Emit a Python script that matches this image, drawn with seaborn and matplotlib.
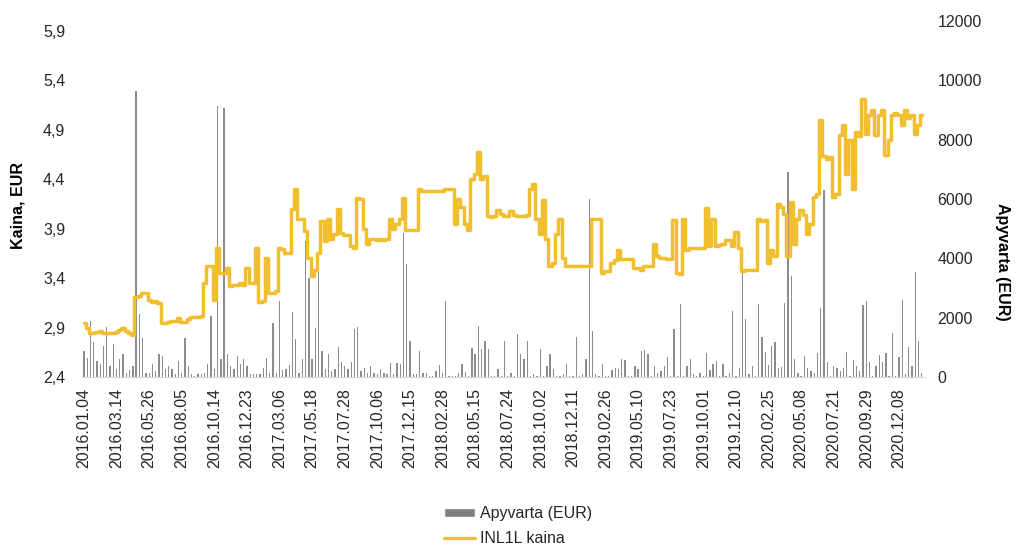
import pandas as pd
import matplotlib
matplotlib.use("Agg")
import matplotlib.pyplot as plt
import seaborn as sns
from matplotlib.ticker import FuncFormatter
from matplotlib.lines import Line2D
from matplotlib.patches import Patch

# category labels shown on the x axis (every 10th sample)
tick_labels = [
    "2016.01.04", "2016.03.14", "2016.05.26", "2016.08.05", "2016.10.14",
    "2016.12.23", "2017.03.06", "2017.05.18", "2017.07.28", "2017.10.06",
    "2017.12.15", "2018.02.28", "2018.05.15", "2018.07.24", "2018.10.02",
    "2018.12.11", "2019.02.26", "2019.05.10", "2019.07.23", "2019.10.01",
    "2019.12.10", "2020.02.25", "2020.05.08", "2020.07.21", "2020.09.29",
    "2020.12.08",
]

# INL1L price, EUR (one reading per ~5 trading days)
price = [
    2.95, 2.90, 2.85, 2.85, 2.86, 2.87, 2.85, 2.85, 2.85, 2.85,
    2.86, 2.88, 2.90, 2.87, 2.84, 2.82, 3.21, 3.22, 3.25, 3.25,
    3.18, 3.16, 3.17, 3.15, 2.95, 2.95, 2.96, 2.97, 2.97, 3.00,
    2.96, 2.96, 2.99, 3.01, 3.01, 3.01, 3.02, 3.35, 3.52, 3.52,
    3.18, 3.70, 3.45, 3.45, 3.50, 3.32, 3.33, 3.33, 3.35, 3.33,
    3.50, 3.35, 3.35, 3.70, 3.16, 3.17, 3.60, 3.25, 3.25, 3.27,
    3.70, 3.69, 3.65, 3.65, 4.10, 4.30, 4.00, 4.00, 3.88, 3.60,
    3.42, 3.48, 3.65, 3.98, 3.78, 4.00, 3.80, 3.85, 4.10, 3.86,
    3.84, 3.84, 3.72, 3.70, 4.21, 4.20, 3.90, 3.75, 3.80, 3.80,
    3.79, 3.80, 3.79, 3.80, 4.00, 3.90, 3.95, 4.00, 4.21, 3.89,
    3.89, 3.89, 3.89, 4.30, 4.28, 4.28, 4.28, 4.28, 4.28, 4.28,
    4.28, 4.30, 4.30, 4.30, 3.95, 4.20, 4.12, 3.95, 3.89, 4.40,
    4.45, 4.68, 4.40, 4.43, 4.03, 4.02, 4.03, 4.09, 4.05, 4.03,
    4.03, 4.08, 4.04, 4.03, 4.03, 4.03, 4.04, 4.30, 4.35, 4.00,
    3.85, 4.19, 3.80, 3.52, 3.55, 3.85, 4.00, 3.60, 3.52, 3.52,
    3.52, 3.52, 3.52, 3.52, 3.52, 3.52, 4.00, 4.00, 4.00, 3.45,
    3.47, 3.47, 3.55, 3.58, 3.68, 3.59, 3.59, 3.59, 3.59, 3.50,
    3.50, 3.48, 3.52, 3.52, 3.52, 3.75, 3.62, 3.60, 3.60, 3.59,
    3.59, 3.99, 3.45, 3.44, 4.00, 3.68, 3.70, 3.70, 3.70, 3.70,
    3.70, 4.11, 3.72, 4.00, 3.72, 3.73, 3.74, 3.79, 3.79, 3.72,
    3.87, 3.70, 3.47, 3.48, 3.48, 3.48, 3.48, 4.00, 3.98, 3.99,
    3.55, 3.68, 3.62, 4.15, 4.12, 4.05, 3.62, 4.17, 3.75, 4.00,
    4.09, 4.04, 3.85, 3.95, 4.22, 4.25, 5.00, 4.63, 4.60, 4.62,
    4.22, 4.25, 4.85, 4.95, 4.45, 4.80, 4.30, 4.88, 4.84, 5.21,
    4.86, 5.05, 5.10, 4.85, 5.05, 5.10, 4.65, 4.80, 5.05, 5.07,
    5.05, 4.95, 5.10, 5.02, 5.05, 4.86, 4.95, 5.05,
]

# turnover, EUR
turnover = [
    885, 630, 1890, 1165, 550, 450, 1050, 1670, 380, 1110,
    270, 600, 770, 150, 250, 380, 9650, 2120, 1330, 150,
    150, 450, 200, 770, 720, 270, 380, 270, 100, 550,
    150, 1330, 380, 100, 50, 100, 100, 150, 450, 2060,
    270, 9140, 600, 9080, 770, 380, 270, 720, 450, 605,
    380, 100, 100, 100, 100, 300, 630, 150, 1815, 150,
    2560, 250, 270, 420, 2200, 1280, 150, 600, 4580, 3350,
    600, 1635, 3830, 885, 270, 770, 200, 270, 1000, 490,
    380, 270, 490, 1610, 1670, 200, 300, 150, 380, 150,
    100, 270, 150, 100, 470, 100, 470, 440, 4860, 3800,
    1220, 100, 100, 885, 150, 150, 50, 50, 200, 400,
    150, 2560, 50, 50, 50, 150, 450, 180, 50, 975,
    770, 1725, 940, 1220, 960, 50, 50, 270, 50, 1220,
    50, 150, 50, 1445, 770, 600, 1220, 50, 100, 50,
    960, 50, 380, 770, 270, 50, 50, 100, 450, 50,
    50, 1365, 50, 100, 600, 6010, 1560, 100, 50, 450,
    50, 50, 250, 300, 270, 605, 580, 50, 50, 380,
    270, 885, 920, 770, 50, 380, 150, 200, 380, 660,
    50, 1610, 50, 2475, 50, 380, 605, 100, 50, 150,
    50, 805, 250, 450, 550, 50, 450, 50, 150, 2230,
    50, 300, 3685, 1950, 100, 380, 50, 2475, 1365, 830,
    400, 1050, 1190, 300, 330, 2490, 6900, 3400, 605, 150,
    50, 720, 300, 200, 150, 805, 2310, 6300, 510, 50,
    380, 320, 200, 320, 830, 50, 580, 380, 200, 2430,
    2550, 500, 50, 380, 740, 500, 800, 50, 1470, 50,
    690, 2600, 100, 1000, 380, 3540, 1220, 150,
]

df = pd.DataFrame({"idx": range(len(price)), "price": price, "turnover": turnover})

sns.set_theme(style="white")
plt.rcParams["font.family"] = ["Liberation Sans", "DejaVu Sans"]

line_color = "#F0BE2E"
bar_color = "#8c8c8c"
text_color = "#262626"
fs = 11.5

fig = plt.figure(figsize=(10.18, 5.47), dpi=100)
ax = fig.add_axes([82 / 1018, 170 / 547, 843 / 1018, 356 / 547])
ax2 = ax.twinx()

ax2.bar(df["idx"], df["turnover"], width=0.4, color=bar_color, linewidth=0)
# steps give the flat runs and vertical jumps of a thinly traded share
sns.lineplot(data=df, x="idx", y="price", ax=ax, color=line_color, linewidth=2.5,
             drawstyle="steps-mid")

# price line above the bars
ax.set_zorder(ax2.get_zorder() + 1)
ax.patch.set_visible(False)

ax.set_xlim(-0.6, 258)
ax.set_ylim(2.4, 6.0)
ax.set_yticks([2.4, 2.9, 3.4, 3.9, 4.4, 4.9, 5.4, 5.9])
ax.yaxis.set_major_formatter(FuncFormatter(lambda v, p: f"{v:.1f}".replace(".", ",")))
ax2.set_ylim(0, 12000)
ax2.set_yticks(range(0, 12001, 2000))

ax.set_xticks(range(0, 251, 10))
ax.set_xticklabels(tick_labels, rotation=90)

ax.tick_params(axis="y", length=0, pad=12, labelsize=fs, labelcolor=text_color)
ax.tick_params(axis="x", length=0, pad=8, labelsize=fs, labelcolor=text_color)
ax2.tick_params(axis="y", length=0, pad=9, labelsize=fs, labelcolor=text_color)

for a in (ax, ax2):
    for s in a.spines.values():
        s.set_visible(False)
ax.spines["bottom"].set_visible(True)
ax.spines["bottom"].set_color("#d9d9d9")
ax.spines["bottom"].set_linewidth(0.8)

ax.set_xlabel("")
ax.set_ylabel("Kaina, EUR", fontsize=fs, fontweight="bold", color="black",
              va="center", ha="center")
ax.yaxis.set_label_coords(-0.076, 0.483)
ax2.set_ylabel("Apyvarta (EUR)", fontsize=fs, fontweight="bold", color="black",
               rotation=-90, va="center", ha="center")
ax2.yaxis.set_label_coords(1.0925, 0.323)

handles = [
    Patch(facecolor="#7f7f7f", label="Apyvarta (EUR)"),
    Line2D([0], [0], color=line_color, lw=2.4, label="INL1L kaina"),
]
fig.legend(handles=handles, loc="center", bbox_to_anchor=(518 / 1018, 1 - 526 / 547),
           frameon=False, fontsize=fs, handlelength=1.95, handleheight=0.45,
           handletextpad=0.3, labelspacing=0.6, labelcolor=text_color)

fig.savefig("out.png", dpi=100)
plt.close(fig)
